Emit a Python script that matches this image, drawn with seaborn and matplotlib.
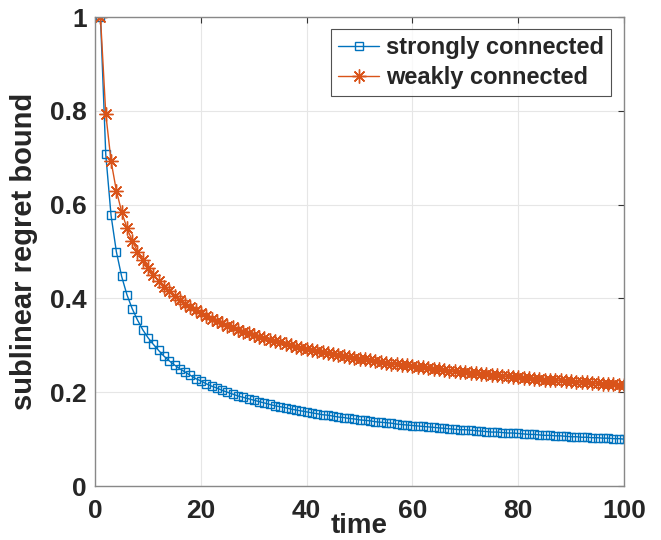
import pandas as pd
import matplotlib
matplotlib.use("Agg")
import matplotlib.pyplot as plt
from matplotlib.lines import Line2D
import seaborn as sns

# valores
t = list(range(1, 101))
strongly = [1.000, 0.707, 0.577, 0.500, 0.447, 0.408, 0.378, 0.354, 0.333, 0.316,
            0.302, 0.289, 0.277, 0.267, 0.258, 0.250, 0.243, 0.236, 0.229, 0.224,
            0.218, 0.213, 0.209, 0.204, 0.200, 0.196, 0.192, 0.189, 0.186, 0.183,
            0.180, 0.177, 0.174, 0.171, 0.169, 0.167, 0.164, 0.162, 0.160, 0.158,
            0.156, 0.154, 0.152, 0.151, 0.149, 0.147, 0.146, 0.144, 0.143, 0.141,
            0.140, 0.139, 0.137, 0.136, 0.135, 0.134, 0.132, 0.131, 0.130, 0.129,
            0.128, 0.127, 0.126, 0.125, 0.124, 0.123, 0.122, 0.121, 0.120, 0.120,
            0.119, 0.118, 0.117, 0.116, 0.115, 0.115, 0.114, 0.113, 0.113, 0.112,
            0.111, 0.110, 0.110, 0.109, 0.108, 0.108, 0.107, 0.107, 0.106, 0.105,
            0.105, 0.104, 0.104, 0.103, 0.103, 0.102, 0.102, 0.101, 0.101, 0.100]
weakly = [1.000, 0.794, 0.693, 0.630, 0.585, 0.550, 0.523, 0.500, 0.481, 0.464,
          0.450, 0.437, 0.425, 0.415, 0.405, 0.397, 0.389, 0.382, 0.375, 0.368,
          0.362, 0.357, 0.352, 0.347, 0.342, 0.338, 0.333, 0.329, 0.326, 0.322,
          0.318, 0.315, 0.312, 0.309, 0.306, 0.303, 0.300, 0.297, 0.295, 0.292,
          0.290, 0.288, 0.285, 0.283, 0.281, 0.279, 0.277, 0.275, 0.273, 0.271,
          0.270, 0.268, 0.266, 0.265, 0.263, 0.261, 0.260, 0.258, 0.257, 0.255,
          0.254, 0.253, 0.251, 0.250, 0.249, 0.247, 0.246, 0.245, 0.244, 0.243,
          0.241, 0.240, 0.239, 0.238, 0.237, 0.236, 0.235, 0.234, 0.233, 0.232,
          0.231, 0.230, 0.229, 0.228, 0.227, 0.227, 0.226, 0.225, 0.224, 0.223,
          0.222, 0.222, 0.221, 0.220, 0.219, 0.218, 0.218, 0.217, 0.216, 0.215]
series = ["strongly connected", "weakly connected"]

sns.set_style("white")
plt.rcParams["font.family"] = ["Liberation Sans", "DejaVu Sans"]
plt.rcParams["font.weight"] = "bold"

fig = plt.figure(figsize=(6.61, 5.4), dpi=100)
ax = fig.add_axes([0.144, 0.1, 0.8, 0.8685])

cores = ["#0072BD", "#D95319"]
marcadores = ["s", (8, 2, 0)]
tamanhos = [6, 10]

for y, cor, mk, ms in zip([strongly, weakly], cores, marcadores, tamanhos):
    sns.lineplot(x=t, y=y, color=cor, marker=mk, markersize=ms, linewidth=1,
                 markerfacecolor="none", markeredgecolor=cor, markeredgewidth=1,
                 ax=ax, legend=False)

ax.set_xlim(0, 100)
ax.set_ylim(0, 1)
ax.set_xticks([0, 20, 40, 60, 80, 100])
ax.set_yticks([0, 0.2, 0.4, 0.6, 0.8, 1])
ax.set_yticklabels(["0", "0.2", "0.4", "0.6", "0.8", "1"])
ax.grid(True, color="#e6e6e6", linewidth=0.8)
ax.tick_params(direction="in", top=True, right=True, length=4, width=0.8,
               color="#333333", labelsize=19)
ax.tick_params(axis="x", pad=9)
ax.tick_params(axis="y", pad=6)
for lab in ax.get_xticklabels() + ax.get_yticklabels():
    lab.set_fontweight("bold")
    lab.set_color("#262626")
for s in ax.spines.values():
    s.set_color("#888888")
    s.set_linewidth(1)

ax.set_xlabel("time", fontsize=20, fontweight="bold", color="#262626")
ax.xaxis.set_label_coords(0.5, -0.058)
ax.set_ylabel("sublinear regret bound", fontsize=21, fontweight="bold", color="#262626")
ax.yaxis.set_label_coords(-0.108, 0.5)

handles = [Line2D([], [], color=c, marker=m, markersize=ms, markerfacecolor="none",
                  linewidth=1) for c, m, ms in zip(cores, marcadores, tamanhos)]
leg = ax.legend(handles, series, loc="upper right", bbox_to_anchor=(0.975, 0.974),
                fontsize=17, frameon=True, fancybox=False, handlelength=1.7,
                handletextpad=0.3, borderpad=0.3, labelspacing=0.3, borderaxespad=0)
leg.get_frame().set_edgecolor("#262626")
leg.get_frame().set_linewidth(0.8)
for tx in leg.get_texts():
    tx.set_fontweight("bold")

plt.savefig("out.png", dpi=100)
plt.close()
